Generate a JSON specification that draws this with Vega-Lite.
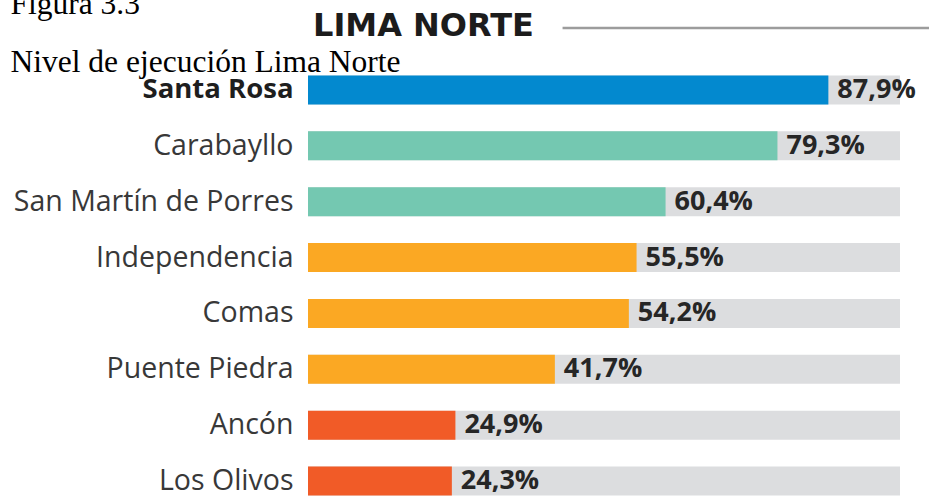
{
  "$schema": "https://vega.github.io/schema/vega-lite/v6.json",
  "width": 592,
  "height": 423,
  "autosize": {"type": "none"},
  "padding": {"left": 308, "top": 74, "right": 29, "bottom": 0},
  "background": "white",
  "title": {
    "text": "LIMA NORTE",
    "anchor": "start",
    "frame": "group",
    "orient": "top",
    "font": "DejaVu Sans",
    "fontWeight": "bold",
    "fontSize": 32,
    "color": "#1c1c1c",
    "baseline": "alphabetic",
    "offset": -80,
    "dx": 5
  },
  "data": {
    "values": [
      {"distrito": "Santa Rosa", "ejecucion": 0.879, "nivel": "Muy alto"},
      {"distrito": "Carabayllo", "ejecucion": 0.793, "nivel": "Alto"},
      {"distrito": "San Martín de Porres", "ejecucion": 0.604, "nivel": "Alto"},
      {"distrito": "Independencia", "ejecucion": 0.555, "nivel": "Medio"},
      {"distrito": "Comas", "ejecucion": 0.542, "nivel": "Medio"},
      {"distrito": "Puente Piedra", "ejecucion": 0.417, "nivel": "Medio"},
      {"distrito": "Ancón", "ejecucion": 0.249, "nivel": "Bajo"},
      {"distrito": "Los Olivos", "ejecucion": 0.243, "nivel": "Bajo"}
    ]
  },
  "encoding": {
    "y": {
      "field": "distrito",
      "type": "nominal",
      "sort": null,
      "scale": {"paddingInner": 0.48, "paddingOuter": 0.026},
      "axis": {
        "title": "Nivel de ejecución Lima Norte",
        "titleAngle": 0,
        "titleAlign": "left",
        "titleBaseline": "alphabetic",
        "titleX": -298,
        "titleY": -3,
        "titleFont": "Liberation Serif",
        "titleFontSize": 31.5,
        "titleFontWeight": "normal",
        "titleColor": "#000000",
        "domain": false,
        "ticks": false,
        "labelPadding": 15,
        "labelLimit": 400,
        "labelFont": "Open Sans",
        "labelFontSize": {"condition": {"test": "datum.value == 'Santa Rosa'", "value": 27.5}, "value": 28.5},
        "labelColor": {"condition": {"test": "datum.value == 'Santa Rosa'", "value": "#1e1e1e"}, "value": "#383838"},
        "labelFontWeight": {"condition": {"test": "datum.value == 'Santa Rosa'", "value": "bold"}, "value": "normal"}
      }
    }
  },
  "layer": [
    {
      "mark": {"type": "bar", "color": "#dcdddf"},
      "encoding": {
        "x": {
          "datum": 1,
          "type": "quantitative",
          "scale": {"domain": [0, 1], "nice": false},
          "axis": {
            "title": "Figura 3.3",
            "titleAngle": 0,
            "titleAlign": "left",
            "titleBaseline": "alphabetic",
            "titleX": -298,
            "titleY": -484,
            "titleFont": "Liberation Serif",
            "titleFontSize": 31.5,
            "titleFontWeight": "normal",
            "titleColor": "#000000",
            "labels": false,
            "ticks": false,
            "domain": false,
            "grid": false
          }
        }
      }
    },
    {
      "mark": {"type": "bar"},
      "encoding": {
        "x": {"field": "ejecucion", "type": "quantitative"},
        "color": {
          "field": "nivel",
          "type": "nominal",
          "scale": {
            "domain": ["Muy alto", "Alto", "Medio", "Bajo"],
            "range": ["#0389cf", "#74c8b1", "#fba823", "#f15b27"]
          },
          "legend": null
        }
      }
    },
    {
      "mark": {
        "type": "text",
        "align": "left",
        "baseline": "middle",
        "dx": 9,
        "font": "Open Sans",
        "fontWeight": "bold",
        "fontSize": 27,
        "color": "#262626"
      },
      "encoding": {
        "x": {"field": "ejecucion", "type": "quantitative"},
        "text": {"field": "ejecucion", "type": "quantitative", "format": ".1%"}
      }
    },
    {
      "data": {"values": [{}]},
      "mark": {"type": "rule", "color": "#9c9c9c", "strokeWidth": 2.5},
      "encoding": {
        "x": {"datum": 0.43, "type": "quantitative"},
        "x2": {"datum": 1.05},
        "y": {"value": -46}
      }
    }
  ],
  "config": {
    "view": {"stroke": null},
    "locale": {
      "number": {"decimal": ",", "thousands": ".", "grouping": [3], "currency": ["", " €"]}
    }
  }
}
